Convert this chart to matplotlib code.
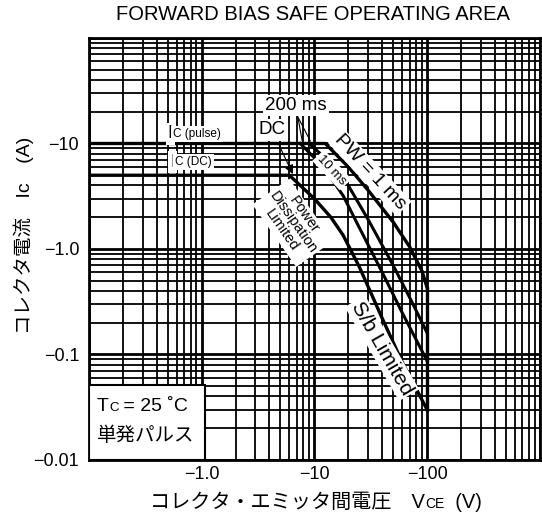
import matplotlib
matplotlib.use('Agg')
import matplotlib.pyplot as plt
from matplotlib.ticker import FixedLocator, FixedFormatter, LogLocator, NullFormatter

plt.rcParams['font.family'] = ['Liberation Sans', 'Noto Sans CJK JP']

# magnitudes (PNP part, minus signs only on the tick labels)
ic_pulse = 10.0
ic_dc = 5.0
vceo = 100.0

pw1_v = [0.1, 12.5, 20, 30, 50, 70, 90, 100]
pw1_i = [10, 10, 6.0, 3.6, 1.8, 1.05, 0.62, 0.43]
pw10_v = [9.0, 14, 20, 30, 50, 75, 100]
pw10_i = [10, 6.5, 4.0, 1.9, 0.7, 0.3, 0.16]
pw200_v = [7.5, 12, 18, 25, 40, 60, 100]
pw200_i = [10, 6.0, 3.2, 1.6, 0.6, 0.25, 0.087]
dc_v = [0.1, 6.0, 10, 14, 18, 25, 40, 60, 100]
dc_i = [5.0, 5.0, 3.0, 2.0, 1.35, 0.68, 0.22, 0.085, 0.030]

x_ticks = [0.1, 1, 10, 100, 1000]
x_labels = ['', '\u22121.0', '\u221210', '\u2212100', '']
y_ticks = [0.01, 0.1, 1, 10, 100]
y_labels = ['\u22120.01', '\u22120.1', '\u22121.0', '\u221210', '']

fig = plt.figure(figsize=(5.42, 5.19), dpi=100)
ax = fig.add_axes([0.164, 0.1137, 0.832, 0.8131])
ax.set_xscale('log')
ax.set_yscale('log')
ax.set_xlim(0.1, 1000)
ax.set_ylim(0.01, 100)

ax.xaxis.set_major_locator(FixedLocator(x_ticks))
ax.xaxis.set_major_formatter(FixedFormatter(x_labels))
ax.yaxis.set_major_locator(FixedLocator(y_ticks))
ax.yaxis.set_major_formatter(FixedFormatter(y_labels))
for a in (ax.xaxis, ax.yaxis):
    a.set_minor_locator(LogLocator(base=10, subs=range(2, 10)))
    a.set_minor_formatter(NullFormatter())
ax.tick_params(which='both', length=0, labelsize=13)
ax.tick_params(axis='x', pad=4)
ax.tick_params(axis='y', pad=7)
ax.grid(which='major', color='black', lw=2.0)
ax.grid(which='minor', color='black', lw=1.3)
for s in ax.spines.values():
    s.set_linewidth(2)

# limits
ax.plot(pw1_v, pw1_i, color='black', lw=2.4, zorder=3)
ax.plot(pw10_v, pw10_i, color='black', lw=2.2, zorder=3)
ax.plot(pw200_v, pw200_i, color='black', lw=2.2, zorder=3)
ax.plot(dc_v, dc_i, color='black', lw=2.4, zorder=3)
ax.plot([vceo, vceo], [pw1_i[-1], dc_i[-1]], color='black', lw=2.4, zorder=3)

box = dict(facecolor='white', edgecolor='none', pad=1.5)

# Ic labels
t = ax.text(0.175, 0.7725, 'I', transform=ax.transAxes, fontsize=13,
            va='center', bbox=box, zorder=4)
ax.annotate('C (pulse)', xy=(1, 0.5), xycoords=t, fontsize=8.5, va='center',
            bbox=box, zorder=4)
t = ax.text(0.180, 0.706, 'I', transform=ax.transAxes, fontsize=13,
            va='center', bbox=box, zorder=4)
ax.annotate('C (DC)', xy=(1, 0.5), xycoords=t, fontsize=8.5, va='center',
            bbox=box, zorder=4)

# curve labels
ax.annotate('200 ms', xy=(pw200_v[0] * 1.05, pw200_i[0]), xytext=(0.459, 0.839),
            textcoords='axes fraction', fontsize=13.5, va='center', ha='center',
            bbox=box, zorder=4,
            arrowprops=dict(arrowstyle='-', color='black', lw=0.8))
ax.annotate('', xy=(pw10_v[0] * 1.05, pw10_i[0]), xytext=(0.459, 0.822),
            textcoords='axes fraction',
            arrowprops=dict(arrowstyle='-', color='black', lw=0.8))
ax.annotate('DC', xy=(dc_v[1] * 1.1, dc_i[1] * 0.97), xytext=(0.406, 0.782),
            textcoords='axes fraction', fontsize=13.5, va='center', ha='center',
            bbox=box, zorder=4,
            arrowprops=dict(arrowstyle='-|>', color='black', lw=0.8))
ax.text(0.623, 0.682, 'PW = 1 ms', transform=ax.transAxes, fontsize=14,
        rotation=-47, ha='center', va='center', bbox=box, zorder=4)
ax.text(0.539, 0.687, '10 ms', transform=ax.transAxes, fontsize=9.5,
        rotation=-47, ha='center', va='center', bbox=box, zorder=4)
ax.text(0.452, 0.562, 'Power\nDissipation\nLimited', transform=ax.transAxes,
        fontsize=10.5, rotation=-55, ha='center', va='center', linespacing=0.95,
        bbox=box, zorder=4)
ax.text(0.650, 0.265, 'S/b Limited', transform=ax.transAxes, fontsize=15,
        rotation=-60, ha='center', va='center', bbox=box, zorder=4)

# condition box
ax.add_patch(plt.Rectangle((0, 0), 0.257, 0.178, transform=ax.transAxes,
                           facecolor='white', edgecolor='black', lw=1.5, zorder=5))
t = ax.text(0.018, 0.115, 'T', transform=ax.transAxes, fontsize=14,
            va='baseline', zorder=6)
t2 = ax.annotate('C', xy=(1, 0.115), xycoords=(t, 'axes fraction'), fontsize=9.5,
                 va='baseline', zorder=6)
ax.annotate(' = 25 \u02daC', xy=(1, 0.115), xycoords=(t2, 'axes fraction'),
            fontsize=14, va='baseline', zorder=6)
ax.text(0.018, 0.045, '単発パルス', transform=ax.transAxes, fontsize=14,
        va='baseline', zorder=6)

fig.text(0.578, 0.973, 'FORWARD BIAS SAFE OPERATING AREA', fontsize=14.5,
         ha='center', va='center')

t = fig.text(0.277, 0.022, 'コレクタ・エミッタ間電圧　V', fontsize=14.5,
             va='baseline')
t2 = fig.text(0, 0, '', fontsize=9)
t2 = ax.annotate('CE', xy=(1, 0.022), xycoords=(t, 'figure fraction'),
                 fontsize=10, va='baseline', annotation_clip=False)
ax.annotate('  (V)', xy=(1, 0.022), xycoords=(t2, 'figure fraction'),
            fontsize=14.5, va='baseline', annotation_clip=False)

fig.text(0.043, 0.547, 'コレクタ電流　Ic　(A)', fontsize=14, rotation=90,
         ha='center', va='center')

fig.savefig('out.png', dpi=100)
